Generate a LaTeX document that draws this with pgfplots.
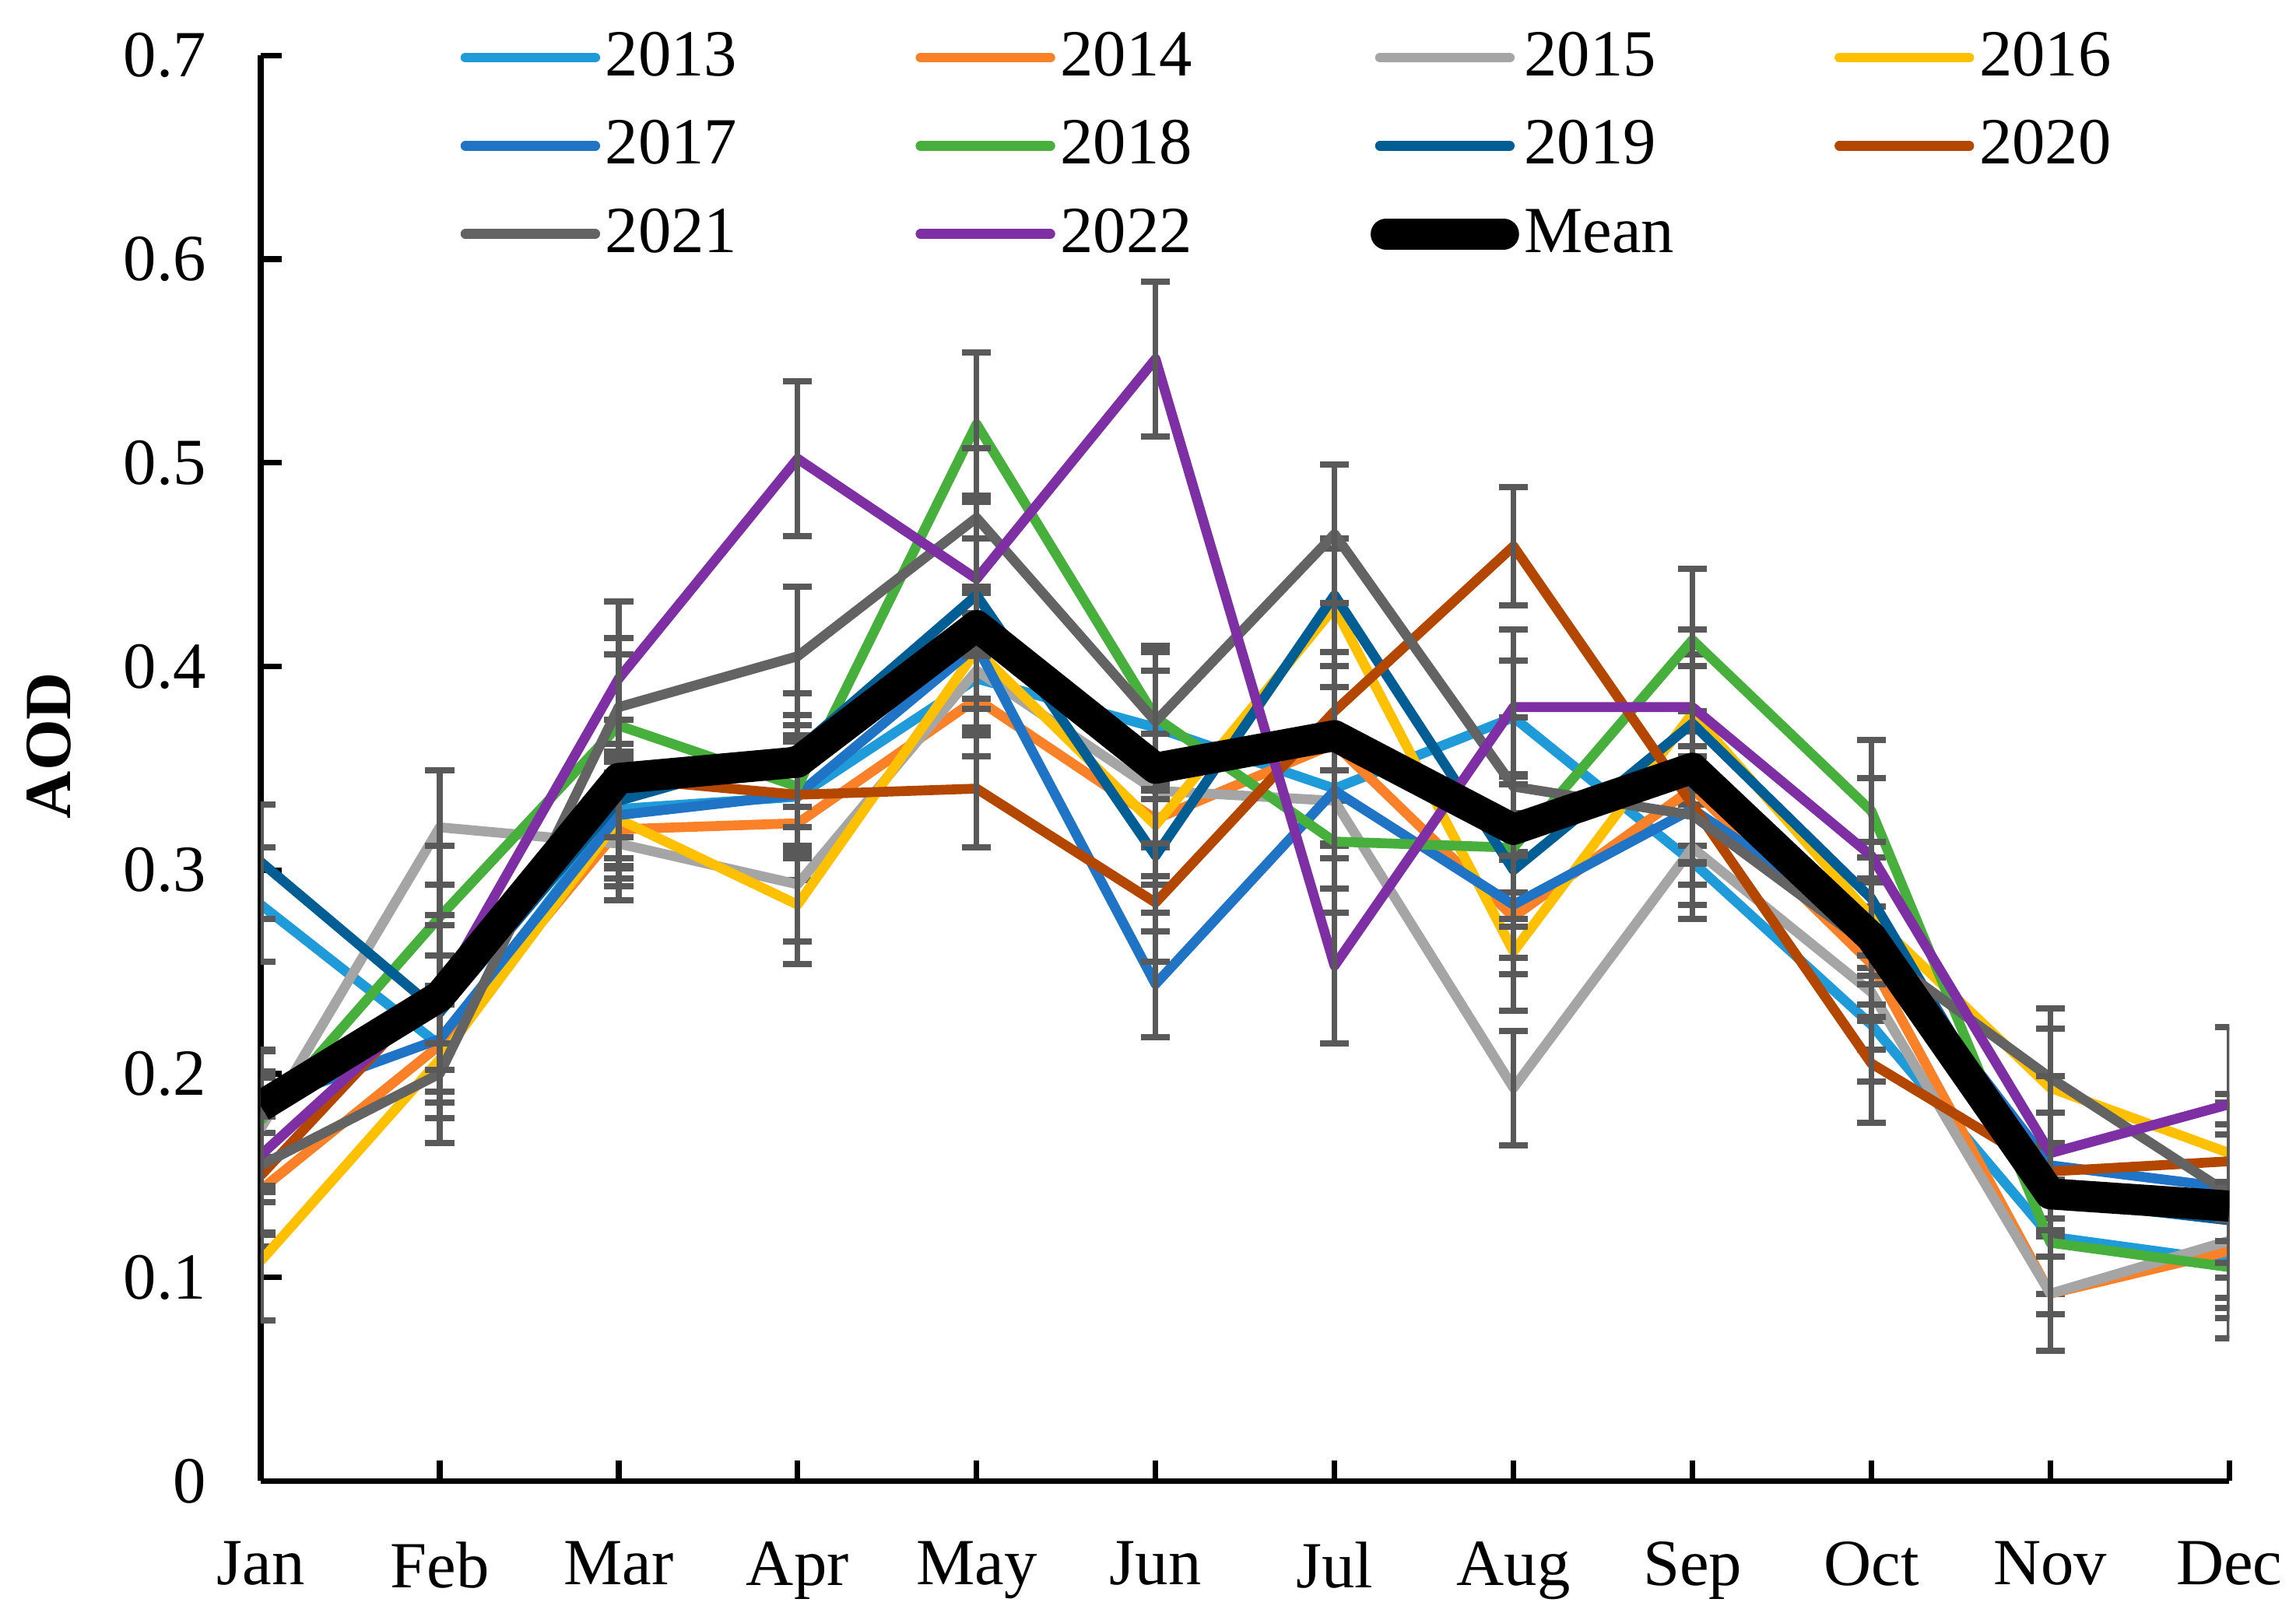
\documentclass[border=0pt]{standalone}
\usepackage{pgfplots}
\pgfplotsset{compat=1.18}
\usepackage{pgfplotstable}
\usepackage{fontspec}
\setmainfont{Liberation Serif}

\definecolor{c13}{HTML}{1F9BDA}
\definecolor{c14}{HTML}{FB8128}
\definecolor{c15}{HTML}{A5A5A5}
\definecolor{c16}{HTML}{FFC000}
\definecolor{c17}{HTML}{1F74C6}
\definecolor{c18}{HTML}{47B03D}
\definecolor{c19}{HTML}{005E94}
\definecolor{c20}{HTML}{B34700}
\definecolor{c21}{HTML}{636363}
\definecolor{c22}{HTML}{7E2FA3}
\definecolor{ebar}{HTML}{595959}

\newcommand{\fsz}{\fontsize{12.7}{15}\selectfont}

% monthly mean AOD per year, month index 0 = Jan
\pgfplotstableread{
m  y13   y14   y15   y16   y17   y18   y19   y20   y21   y22   mean
0  0.283 0.143 0.173 0.108 0.185 0.177 0.304 0.150 0.155 0.160 0.184
1  0.214 0.214 0.321 0.207 0.217 0.277 0.230 0.244 0.200 0.240 0.238
2  0.330 0.320 0.313 0.325 0.327 0.371 0.334 0.345 0.380 0.394 0.345
3  0.336 0.323 0.293 0.283 0.337 0.341 0.359 0.337 0.405 0.502 0.353
4  0.394 0.384 0.398 0.408 0.410 0.519 0.435 0.340 0.473 0.443 0.420
5  0.370 0.325 0.339 0.322 0.244 0.375 0.307 0.284 0.373 0.551 0.350
6  0.340 0.362 0.334 0.429 0.339 0.314 0.435 0.378 0.465 0.253 0.366
7  0.375 0.277 0.193 0.260 0.283 0.311 0.300 0.459 0.341 0.380 0.320
8  0.304 0.340 0.311 0.377 0.330 0.413 0.372 0.332 0.327 0.380 0.350
9  0.224 0.254 0.240 0.277 0.270 0.329 0.286 0.205 0.262 0.307 0.267
10 0.120 0.092 0.092 0.193 0.155 0.117 0.138 0.152 0.198 0.161 0.141
11 0.108 0.113 0.118 0.161 0.144 0.105 0.128 0.157 0.141 0.185 0.135
}\data

\pgfplotsset{
  yr/.style={color=#1, line width=1.9pt, line join=round, no markers},
  eb/.style={error bars/.cd, y dir=both, y fixed=#1,
    error bar style={color=ebar, line width=1.1pt},
    error mark options={rotate=90, mark size=2.8pt, line width=1.2pt, color=ebar}},
  meanleg/.style={legend image code/.code={\draw[##1, line cap=round] (1.2pt,0pt) -- (23.8pt,0pt);}},
}

\begin{document}
\begin{tikzpicture}
\begin{axis}[
  at={(0,0)}, anchor=south west,
  width=379.4pt, height=274.8pt, scale only axis,
  xmin=0, xmax=11, ymin=0, ymax=0.7,
  enlargelimits=false,
  axis x line=bottom, axis y line=left,
  axis line style={-, line width=1.1pt},
  tick align=inside, major tick length=4pt,
  tick style={black, line width=1.1pt},
  xtick={0,...,11},
  xticklabels={Jan,Feb,Mar,Apr,May,Jun,Jul,Aug,Sep,Oct,Nov,Dec},
  ytick={0,0.1,0.2,0.3,0.4,0.5,0.6,0.7},
  /pgf/number format/fixed,
  /pgf/number format/precision=1,
  /pgf/number format/assume math mode=true,
  xticklabel style={font=\fsz, yshift=-8.2pt},
  yticklabel style={font=\fsz, xshift=-7pt},
  ylabel={AOD},
  every axis y label/.style={at={(axis description cs:-0.1075,0.516)}, rotate=90, anchor=center, font=\fsz\bfseries},
  legend columns=4,
  legend cell align=left,
  legend image code/.code={\draw[#1, line cap=round] (0pt,0pt) -- (25pt,0pt);},
  legend style={at={(axis description cs:0.101,1.0193)}, anchor=north west,
    draw=none, fill=none, inner sep=0pt, font=\fsz, column sep=0pt, row sep=6pt,
    nodes={inner xsep=1pt, inner ysep=0pt, text height=9pt, text depth=2pt, xshift=-1.8pt},
    /tikz/every even column/.append style={column sep=33.4pt}},
]
\addplot[yr=c13, eb=0.028] table[x=m, y=y13] {\data};
\addlegendentry{2013}
\addplot[yr=c14, eb=0.028] table[x=m, y=y14] {\data};
\addlegendentry{2014}
\addplot[yr=c15, eb=0.028] table[x=m, y=y15] {\data};
\addlegendentry{2015}
\addplot[yr=c16, eb=0.029] table[x=m, y=y16] {\data};
\addlegendentry{2016}
\addplot[yr=c17, eb=0.026] table[x=m, y=y17] {\data};
\addlegendentry{2017}
\addplot[yr=c18, eb=0.035] table[x=m, y=y18] {\data};
\addlegendentry{2018}
\addplot[yr=c19, eb=0.028] table[x=m, y=y19] {\data};
\addlegendentry{2019}
\addplot[yr=c20, eb=0.029] table[x=m, y=y20] {\data};
\addlegendentry{2020}
\addplot[yr=c21, eb=0.034] table[x=m, y=y21] {\data};
\addlegendentry{2021}
\addplot[yr=c22, eb=0.038] table[x=m, y=y22] {\data};
\addlegendentry{2022}
\addplot[black, line width=6pt, line join=round, no markers, meanleg] table[x=m, y=mean] {\data};
\addlegendentry{\makebox[25.4pt][l]{Mean}}
\end{axis}
\pgfresetboundingbox
\path[use as bounding box] (-50.25pt,-25.4pt) rectangle (392.25pt,285.5pt);
\end{tikzpicture}
\end{document}
